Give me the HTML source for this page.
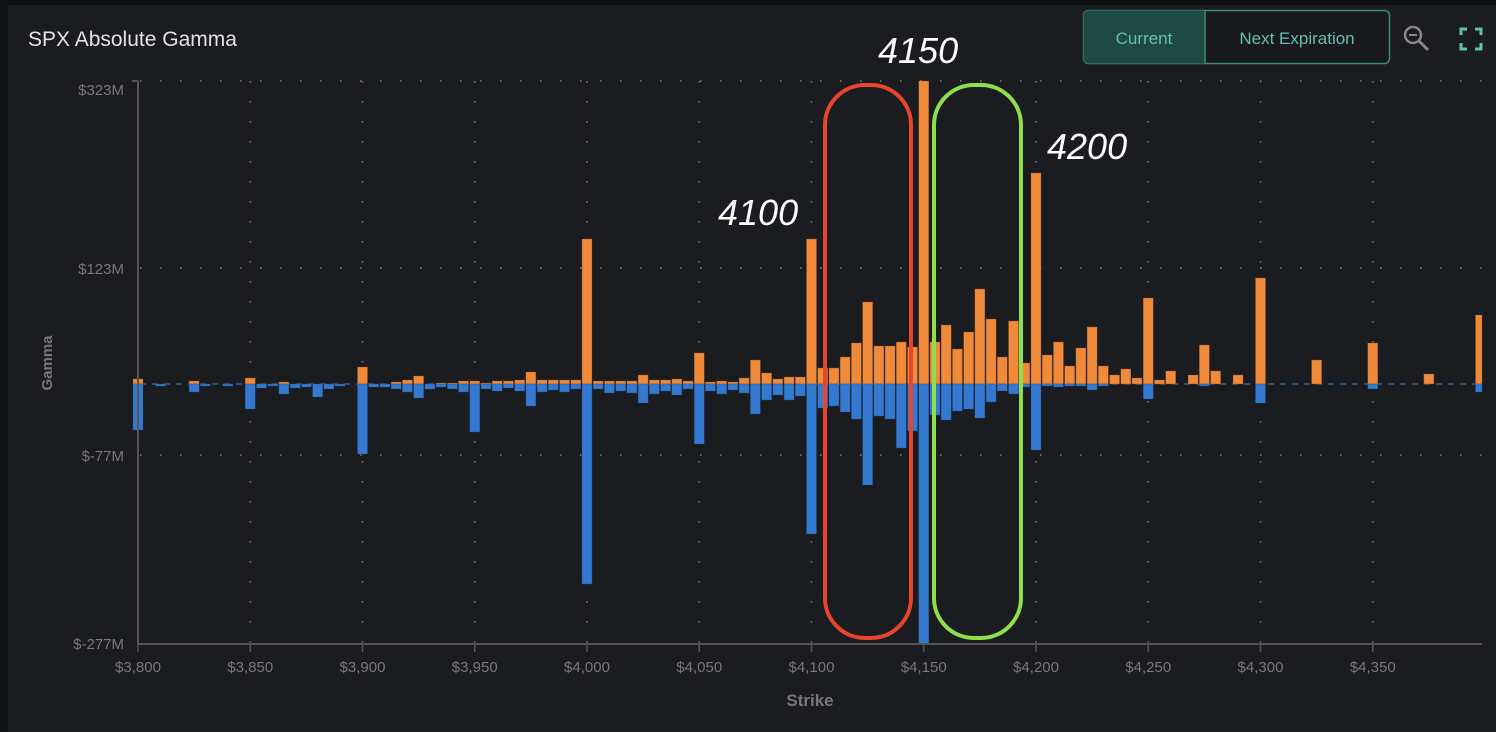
<!DOCTYPE html>
<html><head><meta charset="utf-8"><style>
html,body{margin:0;padding:0;background:#111214;}
body{width:1496px;height:732px;overflow:hidden;position:relative;font-family:"Liberation Sans",sans-serif;}
#panel{position:absolute;left:8px;top:5px;width:1488px;height:727px;background:#1b1c1f;}
svg{position:absolute;left:0;top:0;}
</style></head><body>
<div id="panel"></div>
<svg width="1496" height="732" viewBox="0 0 1496 732" id="s">
<text x="28" y="46" fill="#e2e2e2" font-size="21">SPX Absolute Gamma</text>
<rect x="1083.5" y="10.5" width="306" height="53" rx="5" fill="#18191c" stroke="#3a8a7a" stroke-width="1.5"/>
<path d="M1088.5 10.5 H1205 V63.5 H1088.5 a5 5 0 0 1 -5 -5 V15.5 a5 5 0 0 1 5 -5z" fill="#1f4a44"/>
<line x1="1205" y1="10.5" x2="1205" y2="63.5" stroke="#3a8a7a" stroke-width="1.5"/>
<text x="1144" y="44" fill="#5fc0ac" font-size="17" text-anchor="middle">Current</text>
<text x="1297" y="44" fill="#5fc0ac" font-size="17" text-anchor="middle">Next Expiration</text>
<circle cx="1413" cy="35" r="8" fill="none" stroke="#888" stroke-width="2.5"/>
<line x1="1409" y1="35" x2="1417" y2="35" stroke="#888" stroke-width="2"/>
<line x1="1419" y1="41" x2="1428" y2="50" stroke="#888" stroke-width="3"/>
<path d="M1461 35v-6h6 M1475 29h6v6 M1481 43v6h-6 M1467 49h-6v-6" fill="none" stroke="#5fc0ac" stroke-width="3"/>
<g id="grid"></g>
<g id="bars"></g>
<line x1="138" y1="81" x2="138" y2="644" stroke="#555" stroke-width="2"/>
<line x1="138" y1="644" x2="1482" y2="644" stroke="#555" stroke-width="2"/>
<line x1="132" y1="81" x2="138" y2="81" stroke="#555" stroke-width="2"/>
<g fill="#777" font-size="15" text-anchor="end">
<text x="124" y="95">$323M</text>
<text x="124" y="274">$123M</text>
<text x="124" y="461">$-77M</text>
<text x="124" y="649">$-277M</text>
</g>
<g id="xl" fill="#777" font-size="15" text-anchor="middle"></g>
<text x="0" y="0" fill="#777" font-size="15" font-weight="bold" text-anchor="middle" transform="translate(52,363) rotate(-90)">Gamma</text>
<text x="810" y="706" fill="#777" font-size="17" font-weight="bold" text-anchor="middle">Strike</text>
<rect x="825" y="85" width="86" height="553" rx="40" fill="none" stroke="#e8452c" stroke-width="4"/>
<rect x="934" y="85" width="87" height="553" rx="40" fill="none" stroke="#8ee04a" stroke-width="4"/>
<g fill="#fff" font-size="36" font-style="italic">
<text x="878" y="63">4150</text>
<text x="718" y="225">4100</text>
<text x="1047" y="159">4200</text>
</g>
</svg>
<script>
var NS="http://www.w3.org/2000/svg";
function el(p,t,a,txt){var e=document.createElementNS(NS,t);for(var k in a)e.setAttribute(k,a[k]);if(txt)e.textContent=txt;document.getElementById(p).appendChild(e);}
function X(s){return 138+(s-3800)*2.245;}
var Z=384;
for(var s=3850;s<=4400;s+=50){var x=X(s);if(x>1482)break;el("grid","line",{x1:x,y1:81,x2:x,y2:644,stroke:"#666","stroke-width":2,"stroke-dasharray":"1.5 18.5"});}
[81,268,455].forEach(function(y){el("grid","line",{x1:140,y1:y,x2:1482,y2:y,stroke:"#666","stroke-width":2,"stroke-dasharray":"1.5 18.5"});});
el("grid","line",{x1:140,y1:Z,x2:1482,y2:Z,stroke:"#3a7bd5","stroke-width":1,"stroke-dasharray":"6 6"});
for(var s=3800;s<=4350;s+=50){var x=X(s);el("xl","text",{x:x,y:672},"$"+(s/1000|0)+","+String(s%1000).padStart(3,"0"));el("grid","line",{x1:x,y1:644,x2:x,y2:652,stroke:"#555","stroke-width":1.5});}
var d=[[3800,5,46],[3810,0,2],[3825,3,8],[3830,0,2],[3840,0,2],[3850,6,25],[3855,0,4],[3860,0,2],[3865,2,10],[3870,0,4],[3875,0,3],[3880,0,13],[3885,0,5],[3890,0,2],[3900,17,70],
[3905,0,3],[3910,0,3],[3915,2,5],[3920,4,8],[3925,8,14],[3930,0,5],[3935,1,3],[3940,1,5],[3945,3,8],[3950,3,48],[3955,1,5],[3960,3,7],[3965,3,4],[3970,4,7],[3975,12,22],[3980,4,8],[3985,4,6],[3990,4,8],[3995,4,5],[4000,145,200],
[4005,3,5],[4010,3,9],[4015,3,7],[4020,3,9],[4025,9,19],[4030,4,10],[4035,4,7],[4040,5,11],[4045,3,5],[4050,31,60],[4055,2,7],[4060,3,10],[4065,2,6],[4070,6,9],[4075,24,30],[4080,11,16],[4085,5,11],[4090,7,16],[4095,7,12],[4100,145,150],
[4105,16,24],[4110,16,22],[4115,27,28],[4120,41,35],[4125,82,101],[4130,38,32],[4135,38,35],[4140,42,64],[4145,37,47],[4150,303,260],[4155,42,31],[4160,59,36],[4165,35,27],[4170,52,25],[4175,95,34],[4180,65,18],[4185,27,7],[4190,63,10],[4195,21,3],[4200,211,66],
[4205,29,2],[4210,42,3],[4215,18,2],[4220,36,2],[4225,57,6],[4230,18,2],[4235,9,0],[4240,15,0],[4245,6,0],[4250,86,15],[4255,4,0],[4260,13,0],[4270,9,0],[4275,39,2],[4280,13,0],[4290,9,0],[4300,106,19],[4325,24,0],[4350,41,5],[4375,10,0],[4398,69,8]];
d.forEach(function(r){var x=X(r[0])-5;var w=10;if(x+w>1482)w=1482-x;
if(r[1])el("bars","rect",{x:x,y:Z-r[1],width:w,height:r[1],fill:"#ee8a3a",stroke:"#8a4f20","stroke-width":0.6,"stroke-opacity":0.6});
if(r[2])el("bars","rect",{x:x,y:Z,width:w,height:r[2],fill:"#3479d0",stroke:"#1f4a80","stroke-width":0.6,"stroke-opacity":0.6});});
</script>
</body></html>
